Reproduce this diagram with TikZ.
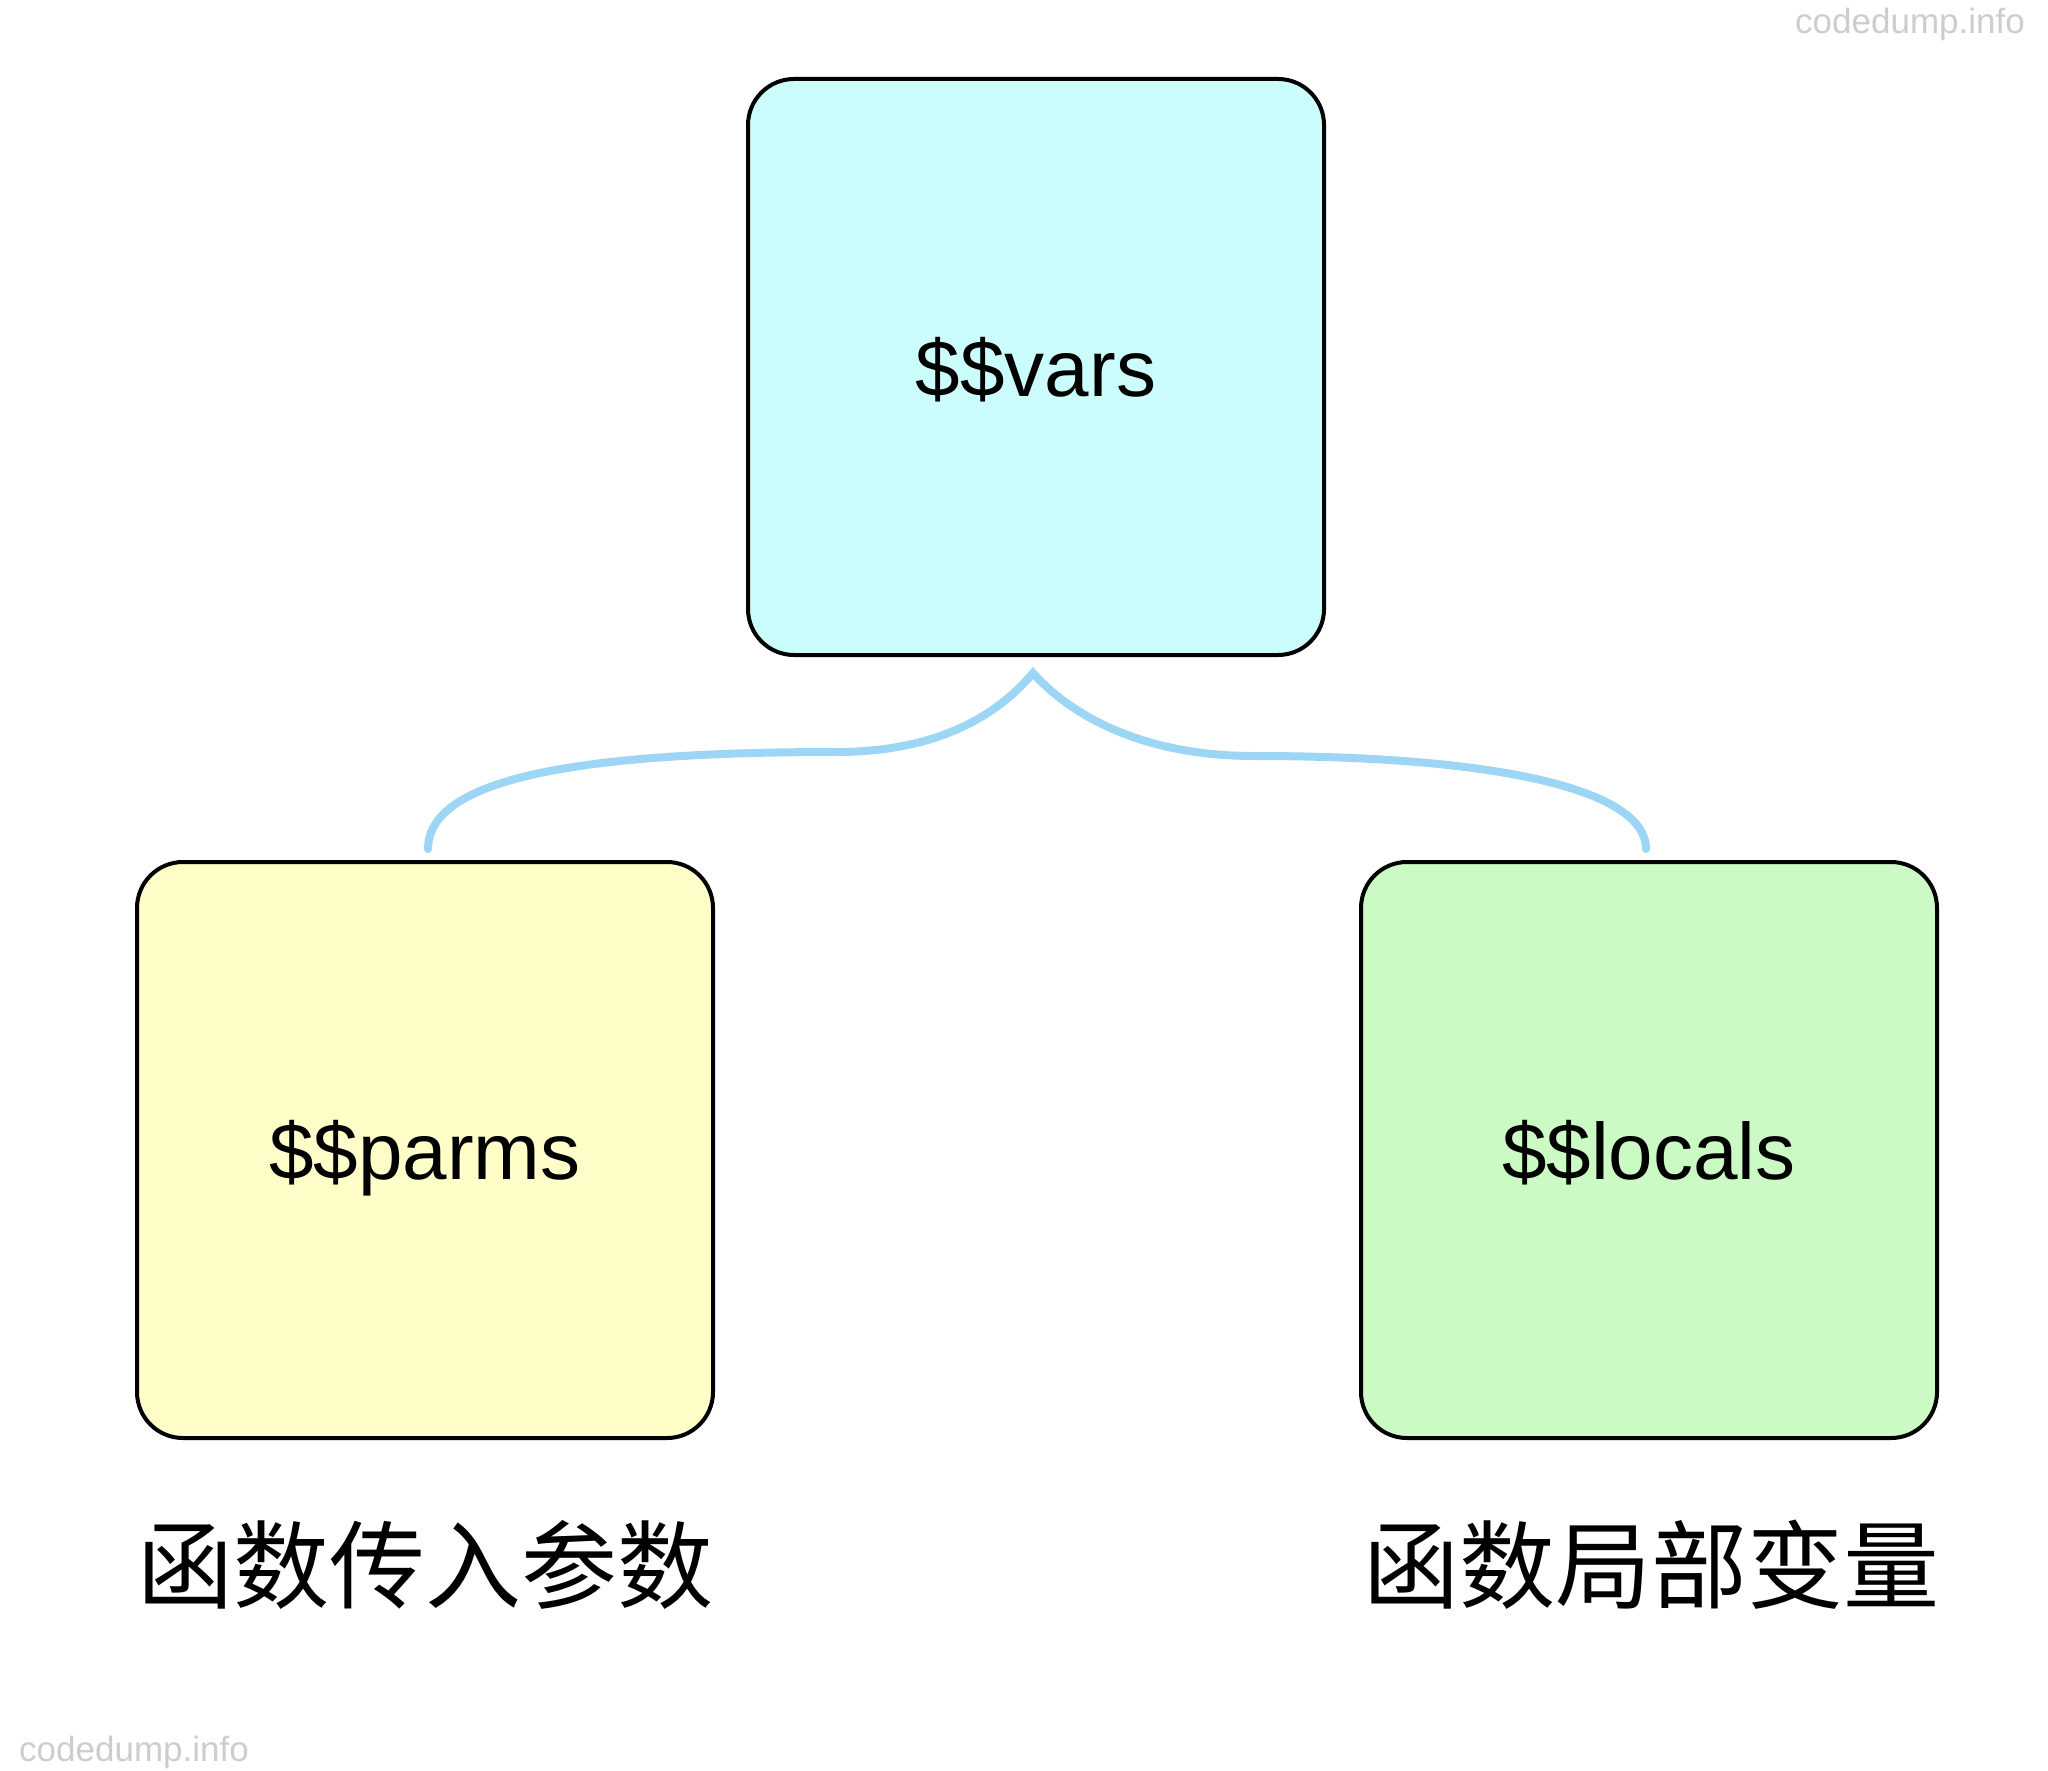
\documentclass[tikz,border=0pt]{standalone}
\usepackage{fontspec}
\setmainfont{Liberation Sans}
\newfontfamily\cjk{Noto Sans CJK SC}
\definecolor{topfill}{RGB}{204,253,253}
\definecolor{leftfill}{RGB}{255,253,200}
\definecolor{rightfill}{RGB}{204,250,196}
\definecolor{bracecol}{RGB}{157,214,245}
\definecolor{wmark}{RGB}{205,205,205}
\begin{document}
\begin{tikzpicture}[x=0.5pt,y=-0.5pt,
  box/.style={draw=black,line width=2pt,rounded corners=23pt,minimum width=288pt,minimum height=288pt,inner sep=0pt,text height=29.8pt,text depth=0pt,font=\fontsize{40}{48}\selectfont},
  cnlabel/.style={inner sep=0pt,font=\cjk\fontsize{48}{56}\selectfont},
  wm/.style={inner sep=0pt,text=wmark,font=\fontsize{17.5}{20}\selectfont},
  bracestyle/.style={draw=bracecol,line width=4pt,line cap=round}]
\useasboundingbox (0,0) rectangle (2048,1770);
\fill[white] (0,0) rectangle (2048,1770);
\node[box,fill=topfill] (vars) at (1036,367) {\$\$vars};
\node[box,fill=leftfill] (parms) at (425,1150) {\$\$parms};
\node[box,fill=rightfill] (locals) at (1649,1150) {\$\$locals};
\node[cnlabel] (lparms) at (425,1565) {函数传入参数};
\node[cnlabel] (llocals) at (1651,1565) {函数局部变量};
\node[wm] (wm1) at (1910,24) {codedump.info};
\node[wm] (wm2) at (134,1752) {codedump.info};
\coordinate (bL) at (428,849);
\coordinate (bR) at (1646,849);
\coordinate (bP) at (1033,673);
\coordinate (mL) at (836,752);
\coordinate (mR) at (1254,756);
\draw[bracestyle] (bL) .. controls (428,778) and (580,752) .. (mL)
  .. controls (950,752) and (1005,706) .. (bP)
  .. controls (1062,706) and (1130,756) .. (mR)
  .. controls (1500,756) and (1646,790) .. (bR);
\end{tikzpicture}
\end{document}
